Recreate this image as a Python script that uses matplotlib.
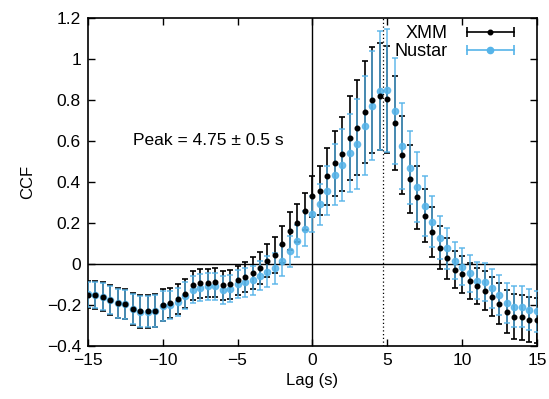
import matplotlib
matplotlib.use('Agg')
import matplotlib.pyplot as plt
from matplotlib.lines import Line2D
from matplotlib.legend_handler import HandlerLine2D, HandlerTuple
import numpy as np

plt.rcParams['font.family'] = ['Liberation Sans', 'DejaVu Sans']
plt.rcParams['axes.unicode_minus'] = True

# Lag values (s), 0.5 s step
lag = np.arange(-15, 15.01, 0.5)

# XMM cross-correlation and errors
xmm_ccf = [-0.15, -0.15, -0.16, -0.175, -0.19, -0.195, -0.22, -0.232, -0.232, -0.228,
           -0.2, -0.19, -0.17, -0.145, -0.105, -0.095, -0.093, -0.09, -0.105, -0.1,
           -0.08, -0.062, -0.046, -0.021, 0.016, 0.044, 0.096, 0.16, 0.2, 0.258,
           0.33, 0.357, 0.428, 0.49, 0.537, 0.615, 0.665, 0.74, 0.8, 0.818,
           0.803, 0.686, 0.532, 0.415, 0.325, 0.236, 0.156, 0.08, 0.028, -0.028,
           -0.05, -0.083, -0.107, -0.13, -0.16, -0.195, -0.233, -0.257, -0.26, -0.273,
           -0.275]
xmm_err = [0.065, 0.068, 0.07, 0.072, 0.075, 0.075, 0.078, 0.08, 0.082, 0.082,
           0.08, 0.075, 0.072, 0.07, 0.07, 0.07, 0.07, 0.07, 0.072, 0.072,
           0.072, 0.073, 0.078, 0.078, 0.081, 0.089, 0.09, 0.092, 0.093, 0.09,
           0.1, 0.119, 0.14, 0.16, 0.18, 0.205, 0.23, 0.25, 0.26, 0.26,
           0.26, 0.23, 0.19, 0.167, 0.155, 0.13, 0.124, 0.104, 0.1, 0.09,
           0.09, 0.09, 0.088, 0.094, 0.096, 0.1, 0.104, 0.11, 0.11, 0.11,
           0.11]

# NuSTAR cross-correlation and errors
nustar_ccf = [-0.148, -0.152, -0.16, -0.175, -0.192, -0.197, -0.22, -0.233, -0.233, -0.23,
              -0.205, -0.2, -0.185, -0.155, -0.125, -0.115, -0.11, -0.108, -0.125, -0.12,
              -0.1, -0.09, -0.08, -0.057, -0.037, -0.021, 0.016, 0.062, 0.112, 0.172,
              0.245, 0.29, 0.358, 0.436, 0.484, 0.541, 0.585, 0.675, 0.772, 0.845,
              0.847, 0.747, 0.577, 0.47, 0.376, 0.284, 0.206, 0.128, 0.077, 0.016,
              -0.013, -0.045, -0.081, -0.089, -0.119, -0.151, -0.192, -0.208, -0.208, -0.224,
              -0.23]
nustar_err = [0.062, 0.065, 0.066, 0.068, 0.07, 0.07, 0.073, 0.075, 0.077, 0.077,
              0.075, 0.07, 0.068, 0.066, 0.066, 0.066, 0.066, 0.066, 0.068, 0.068,
              0.068, 0.07, 0.072, 0.072, 0.074, 0.075, 0.076, 0.076, 0.08, 0.085,
              0.087, 0.1, 0.12, 0.148, 0.175, 0.19, 0.22, 0.24, 0.265, 0.29,
              0.3, 0.26, 0.21, 0.18, 0.17, 0.146, 0.125, 0.105, 0.1, 0.09,
              0.09, 0.09, 0.09, 0.092, 0.094, 0.096, 0.098, 0.1, 0.1, 0.1,
              0.1]

peak_lag = 4.75

fig = plt.figure(figsize=(5.49, 3.99), dpi=100)
ax = fig.add_axes([0.160, 0.133, 0.818, 0.822])

blue = '#56b4e9'

# black error bars, then blue on top, then black dots over everything
ax.errorbar(lag, xmm_ccf, yerr=xmm_err, fmt='none', ecolor='black', elinewidth=1.2,
            capsize=2.5, capthick=1.2, zorder=2)
ax.errorbar(lag, nustar_ccf, yerr=nustar_err, fmt='o', color=blue, ecolor=blue,
            markersize=4.5, elinewidth=1.2, capsize=2.5, capthick=1.2, alpha=0.85, zorder=3)
ax.plot(lag, xmm_ccf, 'o', color='black', markersize=3.3, zorder=4)

# legend handles: horizontal bar with end caps and a dot in the middle
def bar_handle(color, ms):
    bar = Line2D([], [], color=color, lw=1.2, marker='|', markersize=7, mew=1.2)
    dot = Line2D([], [], color=color, ls='none', marker='o', markersize=ms)
    return (bar, dot), {bar: HandlerLine2D(numpoints=2), dot: HandlerLine2D(numpoints=1)}

hx, mx = bar_handle('black', 3.3)
hn, mn = bar_handle(blue, 4.5)
hmap = {tuple: HandlerTuple(ndivide=1)}
hmap.update(mx)
hmap.update(mn)
ax.legend([hx, hn], ['XMM', 'Nustar'], handler_map=hmap, loc='upper right',
          bbox_to_anchor=(0.977, 1.0), frameon=False,
          markerfirst=False, fontsize=13, handlelength=3.2, borderaxespad=0.1,
          labelspacing=0.05, handletextpad=0.8, borderpad=0.3)

ax.axhline(0, color='black', lw=1.0, zorder=1)
ax.axvline(0, color='black', lw=1.0, zorder=1)
ax.axvline(peak_lag, color='black', lw=0.9, ls=(0, (1, 2)), zorder=1)

ax.text(-12.0, 0.6, 'Peak = 4.75 ± 0.5 s', fontsize=12.5, va='center', ha='left')

ax.set_xlim(-15, 15)
ax.set_ylim(-0.4, 1.2)
ax.set_xticks([-15, -10, -5, 0, 5, 10, 15])
ax.set_yticks([-0.4, -0.2, 0, 0.2, 0.4, 0.6, 0.8, 1.0, 1.2])
ax.set_yticklabels(['\u22120.4', '\u22120.2', '0', '0.2', '0.4', '0.6', '0.8', '1', '1.2'])
ax.set_xticklabels(['\u221215', '\u221210', '\u22125', '0', '5', '10', '15'])
ax.tick_params(direction='in', top=True, right=True, length=5, width=1, labelsize=12.5, pad=5)
for s in ax.spines.values():
    s.set_linewidth(1.2)

ax.set_xlabel('Lag (s)', fontsize=12, labelpad=4)
ax.set_ylabel('CCF', fontsize=12, labelpad=8)

fig.savefig('out.png', dpi=100)
